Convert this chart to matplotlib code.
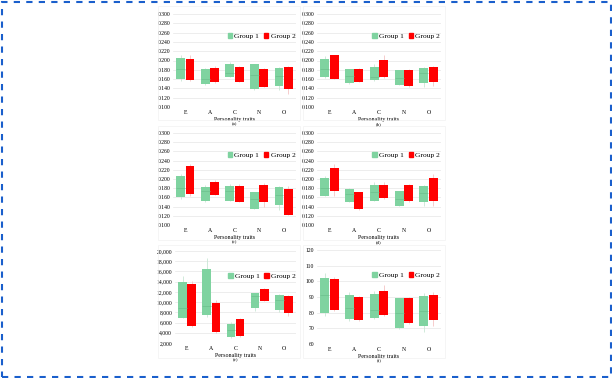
import matplotlib
matplotlib.use('Agg')
import matplotlib.pyplot as plt
from matplotlib.patches import Patch, Rectangle

plt.rcParams['font.family'] = ['Liberation Serif', 'DejaVu Serif']

traits = ['E', 'A', 'C', 'N', 'O']

# panel (a)
a_g1_lo = [0.160, 0.149, 0.164, 0.139, 0.145]
a_g1_hi = [0.206, 0.181, 0.192, 0.192, 0.184]
a_g1_med = [0.181, 0.160, 0.173, 0.169, 0.166]
a_g1_wlo = [0.155, 0.147, 0.164, 0.136, 0.136]
a_g1_whi = [0.212, 0.183, 0.196, 0.193, 0.185]
a_g2_lo = [0.157, 0.153, 0.154, 0.143, 0.139]
a_g2_hi = [0.204, 0.183, 0.186, 0.182, 0.186]
a_g2_wlo = [0.155, 0.152, 0.153, 0.142, 0.127]
a_g2_whi = [0.212, 0.189, 0.189, 0.183, 0.188]

# panel (b)
b_g1_lo = [0.164, 0.151, 0.158, 0.148, 0.152]
b_g1_hi = [0.204, 0.181, 0.186, 0.179, 0.184]
b_g1_med = [0.182, 0.167, 0.164, 0.162, 0.174]
b_g1_wlo = [0.162, 0.149, 0.156, 0.147, 0.143]
b_g1_whi = [0.209, 0.182, 0.193, 0.180, 0.187]
b_g2_lo = [0.161, 0.154, 0.164, 0.145, 0.153]
b_g2_hi = [0.211, 0.182, 0.201, 0.180, 0.186]
b_g2_wlo = [0.160, 0.153, 0.163, 0.144, 0.146]
b_g2_whi = [0.212, 0.183, 0.211, 0.181, 0.188]

# panel (c)
c_g1_lo = [0.160, 0.152, 0.153, 0.135, 0.144]
c_g1_hi = [0.206, 0.182, 0.184, 0.171, 0.182]
c_g1_med = [0.180, 0.173, 0.174, 0.157, 0.166]
c_g1_wlo = [0.156, 0.151, 0.152, 0.134, 0.133]
c_g1_whi = [0.211, 0.186, 0.189, 0.172, 0.185]
c_g2_lo = [0.168, 0.166, 0.151, 0.149, 0.122]
c_g2_hi = [0.229, 0.193, 0.185, 0.187, 0.178]
c_g2_wlo = [0.162, 0.165, 0.150, 0.139, 0.121]
c_g2_whi = [0.232, 0.198, 0.189, 0.191, 0.184]

# panel (d)
d_g1_lo = [0.163, 0.150, 0.153, 0.142, 0.151]
d_g1_hi = [0.203, 0.179, 0.186, 0.173, 0.184]
d_g1_med = [0.180, 0.168, 0.172, 0.157, 0.170]
d_g1_wlo = [0.162, 0.149, 0.152, 0.141, 0.142]
d_g1_whi = [0.206, 0.180, 0.194, 0.174, 0.187]
d_g2_lo = [0.175, 0.134, 0.158, 0.152, 0.152]
d_g2_hi = [0.224, 0.171, 0.187, 0.186, 0.203]
d_g2_wlo = [0.163, 0.133, 0.157, 0.151, 0.142]
d_g2_whi = [0.232, 0.172, 0.194, 0.189, 0.211]

# panel (e)
e_g1_lo = [6900, 7400, 3100, 8900, 8500]
e_g1_hi = [14000, 16400, 5700, 11700, 11300]
e_g1_med = [8900, 9250, 4600, 11100, 10400]
e_g1_wlo = [6800, 7050, 3000, 8300, 8000]
e_g1_whi = [15100, 18700, 6200, 11800, 11600]
e_g2_lo = [5400, 4100, 3300, 10300, 7800]
e_g2_hi = [13500, 9900, 6700, 12600, 11200]
e_g2_wlo = [5100, 4000, 3200, 10200, 7200]
e_g2_whi = [14100, 10400, 6800, 12700, 11300]

# panel (f)
f_g1_lo = [80.0, 76.2, 76.4, 70.0, 71.7]
f_g1_hi = [102.3, 91.1, 92.1, 89.1, 90.9]
f_g1_med = [91.3, 82.7, 82.0, 80.0, 81.0]
f_g1_wlo = [77.9, 74.9, 76.0, 69.5, 67.4]
f_g1_whi = [105.1, 93.0, 93.8, 89.5, 92.3]
f_g2_lo = [81.7, 75.1, 78.3, 73.6, 75.1]
f_g2_hi = [101.3, 89.8, 93.8, 89.1, 91.1]
f_g2_wlo = [81.0, 74.5, 78.0, 73.0, 71.5]
f_g2_whi = [103.0, 90.5, 97.4, 90.0, 93.0]

GREEN = '#7fd3a0'
RED = '#ff0000'
W, H = 612, 378

fig = plt.figure(figsize=(W / 100, H / 100), dpi=100)


def px_axes(x0, x1, y0, y1):
    return fig.add_axes([x0 / W, 1 - y1 / H, (x1 - x0) / W, (y1 - y0) / H])


def draw_panel(rect, caption, g1, g2, ticks, fmt, legend_y):
    x0, x1, y0, y1 = rect
    ax = px_axes(x0, x1, y0, y1)
    lo1, hi1, med1, wlo1, whi1 = g1
    lo2, hi2, wlo2, whi2 = g2
    xs = range(len(traits))
    off = 0.19
    bw = 0.36
    for i in xs:
        ax.vlines(i - off, wlo1[i], whi1[i], color='#c9e6d4', lw=0.6, zorder=2)
        ax.vlines(i + off, wlo2[i], whi2[i], color='#f5c4c4', lw=0.6, zorder=2)
    ax.bar([i - off for i in xs], [h - l for h, l in zip(hi1, lo1)], bottom=lo1,
           width=bw, color=GREEN, zorder=3)
    ax.bar([i + off for i in xs], [h - l for h, l in zip(hi2, lo2)], bottom=lo2,
           width=bw, color=RED, zorder=3)
    ax.hlines(med1, [i - off - bw / 2 for i in xs], [i - off + bw / 2 for i in xs],
              color='#6cbf8c', lw=0.5, zorder=4)
    ax.set_xlim(-0.5, len(traits) - 0.5)
    ax.set_ylim(ticks[0], ticks[-1])
    ax.set_yticks(ticks)
    ax.set_yticklabels([fmt(t) for t in ticks], fontsize=4.1)
    ax.set_xticks(list(xs))
    ax.set_xticklabels(traits, fontsize=4.2)
    ax.tick_params(length=0, pad=2)
    ax.grid(axis='y', color='#e6e6e6', lw=0.5)
    ax.set_axisbelow(True)
    for s in ax.spines.values():
        s.set_visible(False)
    ax.set_xlabel('Personality traits', fontsize=4.3, labelpad=1.5)
    handles = [Patch(color=GREEN, label='Group 1'), Patch(color=RED, label='Group 2')]
    ax.legend(handles=handles, ncol=2, loc='center', bbox_to_anchor=(0.72, legend_y),
              frameon=False, fontsize=5.4, handlelength=0.6, handleheight=0.6,
              handletextpad=0.3, columnspacing=0.6, borderpad=0)
    fig.text((x0 + x1) / 2 / W, 1 - (y1 + 17) / H, caption, fontsize=3.5,
             ha='center', va='center')
    return ax


def fmt3(v):
    return '%.3f' % v


def fmtc(v):
    return '{:,.0f}'.format(v)


def fmti(v):
    return '%d' % v


ratio_ticks = [0.100 + 0.02 * k for k in range(11)]
e_ticks = [2000 * k for k in range(1, 11)]
f_ticks = [60 + 10 * k for k in range(7)]

draw_panel((173, 296, 14, 107), '(a)',
           (a_g1_lo, a_g1_hi, a_g1_med, a_g1_wlo, a_g1_whi),
           (a_g2_lo, a_g2_hi, a_g2_wlo, a_g2_whi), ratio_ticks, fmt3, 0.76)
draw_panel((317, 441, 14, 107), '(b)',
           (b_g1_lo, b_g1_hi, b_g1_med, b_g1_wlo, b_g1_whi),
           (b_g2_lo, b_g2_hi, b_g2_wlo, b_g2_whi), ratio_ticks, fmt3, 0.76)
draw_panel((173, 296, 133, 225), '(c)',
           (c_g1_lo, c_g1_hi, c_g1_med, c_g1_wlo, c_g1_whi),
           (c_g2_lo, c_g2_hi, c_g2_wlo, c_g2_whi), ratio_ticks, fmt3, 0.76)
draw_panel((317, 441, 133, 225), '(d)',
           (d_g1_lo, d_g1_hi, d_g1_med, d_g1_wlo, d_g1_whi),
           (d_g2_lo, d_g2_hi, d_g2_wlo, d_g2_whi), ratio_ticks, fmt3, 0.76)
draw_panel((175, 296, 251, 343), '(e)',
           (e_g1_lo, e_g1_hi, e_g1_med, e_g1_wlo, e_g1_whi),
           (e_g2_lo, e_g2_hi, e_g2_wlo, e_g2_whi), e_ticks, fmtc, 0.73)
draw_panel((317, 441, 250, 344), '(f)',
           (f_g1_lo, f_g1_hi, f_g1_med, f_g1_wlo, f_g1_whi),
           (f_g2_lo, f_g2_hi, f_g2_wlo, f_g2_whi), f_ticks, fmti, 0.73)

# faint chart-area frames
for cx0, cx1 in [(158, 300), (303, 445)]:
    for cy0, cy1 in [(6, 120), (126, 240), (245, 358)]:
        fig.add_artist(Rectangle((cx0 / W, 1 - cy1 / H), (cx1 - cx0) / W, (cy1 - cy0) / H,
                                 transform=fig.transFigure, fill=False,
                                 edgecolor='#f2f2f2', lw=0.5))

# dashed blue border
fig.add_artist(Rectangle((1.5 / W, 1.5 / H), (W - 3) / W, (H - 3) / H,
                         transform=fig.transFigure, fill=False, edgecolor='#1a5fcc',
                         lw=1.5, ls=(0, (3, 3))))

fig.savefig('out.png', dpi=100)
